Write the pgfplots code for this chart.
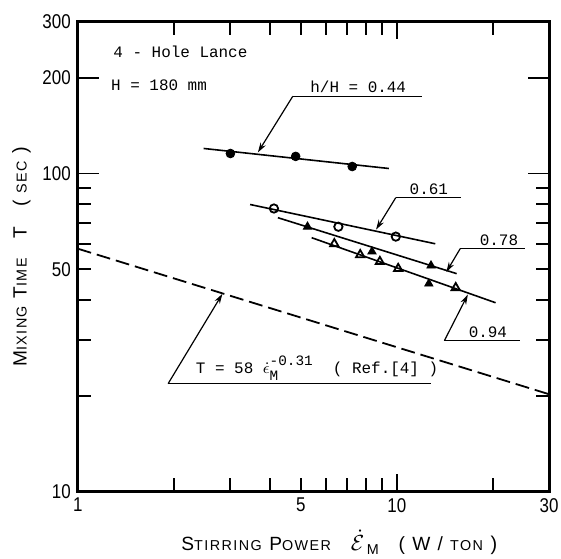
\documentclass[border=0pt]{standalone}
\usepackage{pgfplots}
\pgfplotsset{compat=1.18}
\usepackage{fontspec}
\usetikzlibrary{arrows.meta}
\setmainfont{Liberation Sans}
\newfontfamily\tickfont[FakeStretch=0.85]{Liberation Sans}
\newfontfamily\labfont[LetterSpace=10]{Liberation Sans}
\newfontfamily\cour{Liberation Mono}
% fake small caps: big first letter, small rest
\newcommand\fsc[2]{{\fontsize{9.6}{11}\selectfont#1}{\fontsize{7.2}{8}\selectfont#2}}
\newcommand\ann{\cour\fontsize{8}{9}\selectfont}
\newcommand\annsmall{\cour\fontsize{7.2}{8}\selectfont}

\begin{document}
\begin{tikzpicture}
\begin{axis}[
    name=ax,
    scale only axis,
    width=236.5pt, height=235.5pt,
    xmode=log, ymode=log,
    xmin=1, xmax=30, ymin=10, ymax=300,
    xtick={1,5,10,30}, xticklabels={1,5,10,30},
    minor xtick={2,3,4,6,7,8,9,20},
    ytick={10,50,100,200,300}, yticklabels={10,50,100,200,300},
    minor ytick={20,30,40,60,70,80,90},
    extra y ticks={100,200}, extra y tick labels={},
    extra y tick style={major tick length=10.5pt},
    extra x ticks={10}, extra x tick labels={},
    extra x tick style={major tick length=8.5pt},
    tick align=inside,
    major tick length=6.5pt, minor tick length=6.5pt,
    tick style={black, line width=1pt},
    axis line style={line width=1.5pt},
    ticklabel style={font=\tickfont\fontsize{10}{11}\selectfont},
    /pgf/number format/assume math mode=true,
    xlabel={\labfont\fsc{S}{TIRRING} \fsc{P}{OWER}\quad {\fontsize{11}{12}\selectfont$\dot{\mathcal{E}}$}{\fontsize{7.2}{8}\selectfont\raisebox{-2pt}{\,M}}\quad \fsc{( W / }{TON} )},
    xlabel style={at={(rel axis cs:0.555,0)}, anchor=north, yshift=-16pt},
    ylabel={\labfont\fsc{M}{IXING} \fsc{T}{IME}\quad \fsc{T}{}\quad \fsc{( }{SEC} )},
    ylabel style={yshift=-1pt},
  ]
  % h/H = 0.44
  \addplot[black, line width=0.8pt] coordinates {(2.48,119.9) (9.44,103.7)};
  \addplot[only marks, mark=*, mark size=2.2pt, black] coordinates {
    (3.01,115.6) (4.82,113.2) (7.25,105.2)};
  % h/H = 0.61
  \addplot[black, line width=0.8pt] coordinates {(3.47,79.9) (13.2,60.1)};
  \addplot[only marks, mark=o, mark size=2.1pt, black, mark options={line width=0.9pt, fill=white}] coordinates {
    (4.12,77.6) (6.56,68.0) (9.93,63.3)};
  % h/H = 0.78
  \addplot[black, line width=0.8pt] coordinates {(4.24,72.6) (15.4,48.4)};
  \addplot[only marks, mark=triangle*, mark size=2.4pt, black] coordinates {
    (5.25,68.0) (8.36,56.8) (12.8,51.3) (12.6,45.0)};
  % h/H = 0.94
  \addplot[black, line width=0.8pt] coordinates {(5.41,62.8) (20.4,39.2)};
  \addplot[only marks, mark=triangle, mark size=2.4pt, black, mark options={line width=0.9pt, fill=white}] coordinates {
    (6.37,60.1) (7.68,55.5) (8.85,52.8) (10.1,50.2) (15.3,43.7)};
  % Ref.[4]: T = 58 e^-0.31
  \addplot[black, line width=0.9pt, dash pattern=on 7pt off 3pt] coordinates {(1,58) (30,20.2)};

  % annotations
  \node[anchor=west, font=\ann] at (axis cs:1.23,241) {4 - Hole Lance};
  \node[anchor=west, font=\ann] at (axis cs:1.21,190) {H = 180 mm};

  \draw[line width=0.6pt] (axis cs:4.72,175) -- (axis cs:11.97,175);
  \draw[line width=0.6pt, -{Stealth[length=5pt,width=3pt]}] (axis cs:4.72,175) -- (axis cs:3.67,116.5);
  \node[anchor=south, font=\ann, inner sep=1.5pt] at (axis cs:7.57,175) {h/H = 0.44};

  \draw[line width=0.6pt] (axis cs:9.93,84) -- (axis cs:15.9,84);
  \draw[line width=0.6pt, -{Stealth[length=5pt,width=3pt]}] (axis cs:9.93,84) -- (axis cs:8.61,66.6);
  \node[anchor=south, font=\ann, inner sep=1.5pt] at (axis cs:12.6,84) {0.61};

  \draw[line width=0.6pt] (axis cs:15.8,58) -- (axis cs:25.3,58);
  \draw[line width=0.6pt, -{Stealth[length=5pt,width=3pt]}] (axis cs:15.8,58) -- (axis cs:14.3,49.0);
  \node[anchor=south, font=\ann, inner sep=1.5pt] at (axis cs:20.9,58) {0.78};

  \draw[line width=0.6pt] (axis cs:14.1,29.8) -- (axis cs:24.3,29.8);
  \draw[line width=0.6pt, -{Stealth[length=5pt,width=3pt]}] (axis cs:14.1,29.8) -- (axis cs:16.7,41.6);
  \node[anchor=south, font=\ann, inner sep=1.5pt] at (axis cs:19.3,29.8) {0.94};

  \draw[line width=0.6pt] (axis cs:1.92,21.8) -- (axis cs:12.8,21.8);
  \draw[line width=0.6pt, -{Stealth[length=5pt,width=3pt]}] (axis cs:1.92,21.8) -- (axis cs:2.84,41.8);
  \node[anchor=south west, font=\ann, inner sep=1.5pt] at (axis cs:2.29,21.8)
    {T = 58 $\dot{\epsilon}_{\mbox{\annsmall M}}^{\raisebox{1pt}{\annsmall -0.31}}$ \ ( Ref.[4] )};
\end{axis}
\pgfresetboundingbox
\path[use as bounding box] ([shift={(-39pt,-34pt)}]ax.south west) rectangle ([shift={(6pt,11pt)}]ax.north east);
\end{tikzpicture}
\end{document}
